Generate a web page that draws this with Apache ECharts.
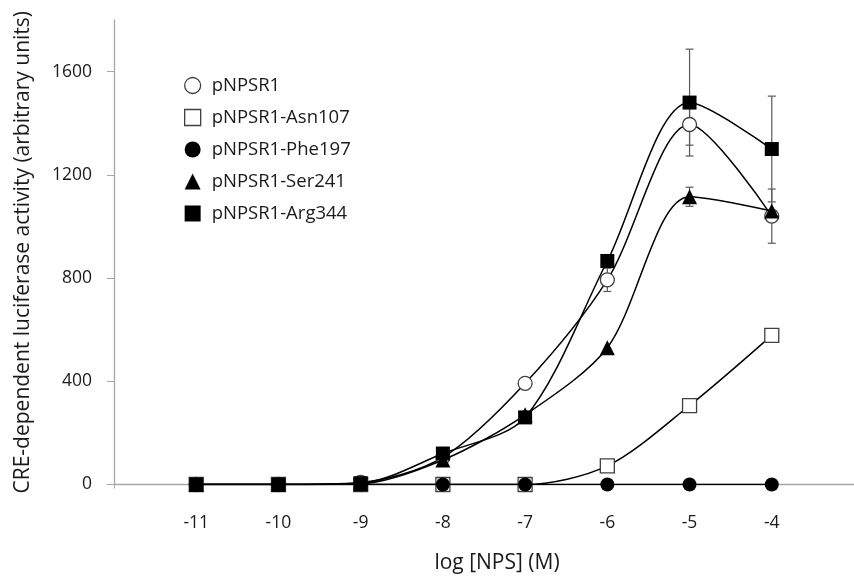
<!DOCTYPE html>
<html>
<head>
<meta charset="utf-8">
<script src="https://cdn.jsdelivr.net/npm/echarts@6/dist/echarts.min.js"></script>
<style>html,body{margin:0;padding:0;background:#fff}#c{width:854px;height:580px}</style>
</head>
<body>
<div id="c"></div>
<script>
// log [NPS] (M)
const xValues = [-11, -10, -9, -8, -7, -6, -5, -4];
const xTickLabels = [-11, -10, -9, -8, -7, -6, -5, -4];
const yTickLabels = [0, 400, 800, 1200, 1600];
const seriesNames = ['pNPSR1', 'pNPSR1-Asn107', 'pNPSR1-Phe197', 'pNPSR1-Ser241', 'pNPSR1-Arg344'];
const pNPSR1 = [0, 0, 8, 105, 392, 793, 1395, 1040];
const pNPSR1Err = [0, 0, 0, 0, 0, 45, 80, 105];
const asn107 = [0, 0, 0, 0, 0, 72, 306, 578];
const asn107Err = [0, 0, 0, 0, 0, 0, 0, 0];
const phe197 = [0, 0, 0, 0, 0, 0, 0, 0];
const phe197Err = [0, 0, 0, 0, 0, 0, 0, 0];
const ser241 = [0, 0, 3, 95, 270, 530, 1115, 1060];
const ser241Err = [0, 0, 0, 0, 0, 0, 37, 0];
const arg344 = [0, 0, 5, 120, 260, 866, 1480, 1300];
const arg344Err = [0, 0, 0, 0, 0, 0, 207, 205];

const values = [pNPSR1, asn107, phe197, ser241, arg344];
const errors = [pNPSR1Err, asn107Err, phe197Err, ser241Err, arg344Err];
const symbols = ['circle', 'rect', 'circle', 'triangle', 'rect'];
const fills = ['#ffffff', '#ffffff', '#000000', '#000000', '#000000'];
const borders = ['#404040', '#404040', '#000000', '#000000', '#000000'];
const borderW = [1.3, 1.3, 0, 0, 0];

const FONT = '"Open Sans", sans-serif';

const errData = [];
values.forEach((vals, s) => {
  vals.forEach((v, i) => {
    if (errors[s][i] > 0) errData.push([xValues[i], v, errors[s][i]]);
  });
});

const series = [];
series.push({
  type: 'custom',
  name: 'err',
  z: 1,
  silent: true,
  renderItem: function (params, api) {
    const x = api.value(0), y = api.value(1), e = api.value(2);
    const top = api.coord([x, y + e]);
    const bot = api.coord([x, y - e]);
    const w = 4;
    const st = { stroke: '#595959', lineWidth: 1.2 };
    return {
      type: 'group',
      children: [
        { type: 'line', shape: { x1: top[0], y1: top[1], x2: bot[0], y2: bot[1] }, style: st },
        { type: 'line', shape: { x1: top[0] - w, y1: top[1], x2: top[0] + w, y2: top[1] }, style: st },
        { type: 'line', shape: { x1: bot[0] - w, y1: bot[1], x2: bot[0] + w, y2: bot[1] }, style: st }
      ]
    };
  },
  data: errData
});

seriesNames.forEach((name, s) => {
  series.push({
    type: 'line',
    name: name,
    z: 2 + s,
    smooth: 0.3,
    symbol: symbols[s],
    symbolSize: symbols[s] === 'triangle' ? 15 : 14,
    showAllSymbol: true,
    lineStyle: { color: '#000', width: 1.5 },
    itemStyle: { color: fills[s], borderColor: borders[s], borderWidth: borderW[s] },
    emphasis: { disabled: true },
    data: xValues.map((x, i) => [x, values[s][i]])
  });
});

const chart = echarts.init(document.getElementById('c'), null, { renderer: 'canvas' });
chart.setOption({
  animation: false,
  backgroundColor: '#fff',
  textStyle: { fontFamily: FONT },
  grid: { left: 114, top: 20, width: 746, height: 464.5 },
  legend: {
    orient: 'vertical',
    left: 179,
    top: 71,
    itemWidth: 16,
    itemHeight: 16,
    itemGap: 13,
    selectedMode: false,
    textStyle: { fontFamily: FONT, fontSize: 18.5, color: '#1a1a1a', padding: [0, 0, 0, 6], lineHeight: 16 },
    data: seriesNames.map((n, s) => ({
      name: n,
      icon: symbols[s],
      itemStyle: { color: fills[s], borderColor: borders[s], borderWidth: borderW[s] }
    }))
  },
  xAxis: {
    type: 'value',
    min: -12,
    max: -3,
    interval: 1,
    name: 'log [NPS] (M)',
    nameLocation: 'middle',
    nameGap: 68,
    nameTextStyle: { fontFamily: FONT, fontSize: 21, color: '#1a1a1a', padding: [0, 0, 0, 26] },
    axisLine: { onZero: false, lineStyle: { color: '#a6a6a6', width: 1.3 } },
    axisTick: { show: true, customValues: [-12], length: 4, lineStyle: { color: '#a6a6a6' } },
    axisLabel: { customValues: xTickLabels, margin: 30, fontFamily: FONT, fontSize: 17.5, color: '#1a1a1a' },
    splitLine: { show: false }
  },
  yAxis: {
    type: 'value',
    min: 0,
    max: 1800,
    name: 'CRE-dependent luciferase activity (arbitrary units)',
    nameLocation: 'middle',
    nameGap: 80,
    nameTextStyle: { fontFamily: FONT, fontSize: 21, color: '#1a1a1a' },
    axisLine: { show: true, lineStyle: { color: '#a6a6a6', width: 1.3 } },
    axisTick: { show: true, customValues: yTickLabels, length: 7, lineStyle: { color: '#a6a6a6' } },
    axisLabel: { customValues: yTickLabels, margin: 22, fontFamily: FONT, fontSize: 17.5, color: '#1a1a1a', formatter: v => String(v) },
    splitLine: { show: false }
  },
  series: series
});
</script>
</body>
</html>
